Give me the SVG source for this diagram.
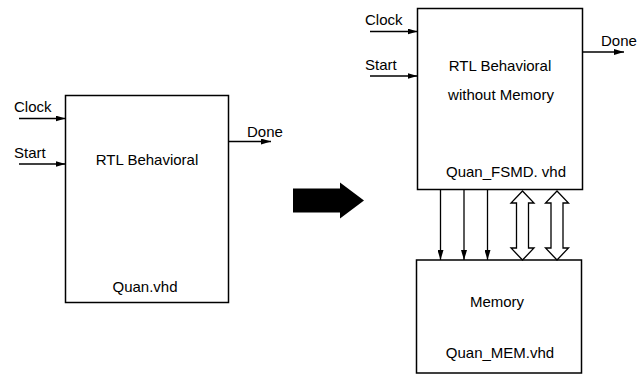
<svg xmlns="http://www.w3.org/2000/svg" width="640" height="376" viewBox="0 0 640 376">
<style>
.box{fill:#fff;stroke:#000;stroke-width:1.5}
.ln{fill:none;stroke:#000;stroke-width:1.3;marker-end:url(#ah)}
.t{font-family:"Liberation Sans",Arial,sans-serif;font-size:15px;fill:#000}
.c{text-anchor:middle}
.dbl{fill:#fff;stroke:#000;stroke-width:1.3;stroke-linejoin:miter}
</style>
<defs>
<marker id="ah" markerWidth="10" markerHeight="6" refX="10" refY="3" orient="auto" markerUnits="userSpaceOnUse">
<path d="M0,0 L10,3 L0,6 Z" fill="#000"/>
</marker>
</defs>
<rect width="640" height="376" fill="#fff"/>

<g id="left-box">
<rect class="box" x="65.5" y="95.5" width="163" height="207"/>
<text class="t c" x="147" y="165">RTL Behavioral</text>
<text class="t c" x="145" y="292">Quan.vhd</text>
</g>
<g id="left-labels">
<text class="t" x="14" y="112">Clock</text>
<text class="t" x="14" y="158">Start</text>
<text class="t" x="247" y="137">Done</text>
</g>

<g id="transform-arrow">
<path d="M293,188.5 L340,188.5 L340,182.5 L364,200.5 L340,218.5 L340,212.5 L293,212.5 Z" fill="#000"/>
</g>

<g id="fsmd-box">
<rect class="box" x="417.5" y="8.5" width="165" height="181"/>
<text class="t c" x="500" y="70.5">RTL Behavioral</text>
<text class="t c" x="501" y="100">without Memory</text>
<text class="t c" x="506" y="176.5">Quan_FSMD. vhd</text>
</g>
<g id="right-labels">
<text class="t" x="365" y="25">Clock</text>
<text class="t" x="365" y="70">Start</text>
<text class="t" x="601" y="45.5">Done</text>
</g>

<g id="memory-box">
<rect class="box" x="416.5" y="260" width="165" height="113"/>
<text class="t c" x="497" y="306.5">Memory</text>
<text class="t c" x="500" y="358">Quan_MEM.vhd</text>
</g>

<g id="connectors">
<line class="ln" x1="19" y1="118.5" x2="65.5" y2="118.5"/>
<line class="ln" x1="19" y1="164" x2="65.5" y2="164"/>
<line class="ln" x1="228.5" y1="141.5" x2="271" y2="141.5"/>
<line class="ln" x1="370" y1="31.5" x2="417.5" y2="31.5"/>
<line class="ln" x1="370" y1="76" x2="417.5" y2="76"/>
<line class="ln" x1="582.5" y1="52" x2="624" y2="52"/>
<line class="ln" x1="440.5" y1="190" x2="440.5" y2="260"/>
<line class="ln" x1="464" y1="190" x2="464" y2="260"/>
<line class="ln" x1="487.5" y1="190" x2="487.5" y2="260"/>
<path class="dbl" d="M522.5,191 L534,203 L528.5,203 L528.5,248 L534,248 L522.5,260 L511,248 L516.5,248 L516.5,203 L511,203 Z"/>
<path class="dbl" d="M557,191 L568.5,203 L563,203 L563,248 L568.5,248 L557,260 L545.5,248 L551,248 L551,203 L545.5,203 Z"/>
</g>
</svg>
